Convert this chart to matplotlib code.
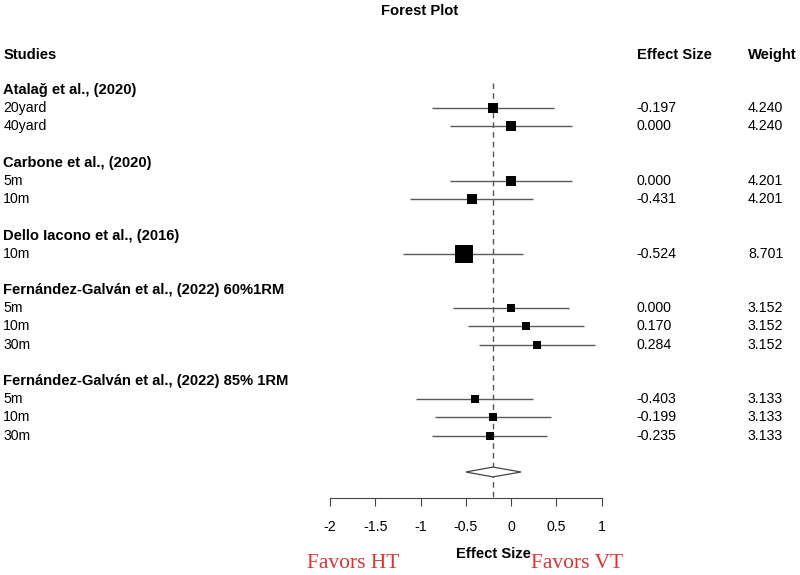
import matplotlib
matplotlib.use("Agg")
from matplotlib import pyplot as plt
from matplotlib import transforms
import numpy as np

plt.rcParams['font.family'] = ['Liberation Sans', 'DejaVu Sans']

studies = ["Atalağ et al., (2020)",
           "Carbone et al., (2020)",
           "Dello Iacono et al., (2016)",
           "Fernández-Galván et al., (2022) 60%1RM",
           "Fernández-Galván et al., (2022) 85% 1RM"]
outcomes = [["20yard", "40yard"],
            ["5m", "10m"],
            ["10m"],
            ["5m", "10m", "30m"],
            ["5m", "10m", "30m"]]
effect = [[-0.197, 0.000],
          [0.000, -0.431],
          [-0.524],
          [0.000, 0.170, 0.284],
          [-0.403, -0.199, -0.235]]
ci_low = [[-0.877, -0.675],
          [-0.675, -1.116],
          [-1.197],
          [-0.638, -0.473, -0.358],
          [-1.050, -0.840, -0.877]]
ci_high = [[0.477, 0.669],
           [0.669, 0.245],
           [0.135],
           [0.639, 0.805, 0.923],
           [0.238, 0.440, 0.400]]
weight = [[4.240, 4.240],
          [4.201, 4.201],
          [8.701],
          [3.152, 3.152, 3.152],
          [3.133, 3.133, 3.133]]
summary_es = -0.20
summary_low = -0.50
summary_high = 0.11
xticks = [-2, -1.5, -1, -0.5, 0, 0.5, 1]

fig = plt.figure(figsize=(8, 5.75), dpi=100)
ax = fig.add_axes([0, 0, 1, 1])
# pixel -> data mapping: x = (px - 511.1) / 90.57, row = (py - 90) / 18.19
ax.set_xlim((0 - 511.1) / 90.57, (800 - 511.1) / 90.57)
ax.set_ylim((575 - 90) / 18.19, (0 - 90) / 18.19)

lab = transforms.blended_transform_factory(fig.transFigure, ax.transData)
fs = 10.2
hfs = 10.6

ax.text(0.524, -4.35, "Forest Plot", transform=lab, ha='center', va='center',
        fontsize=hfs, fontweight='bold')
ax.text(0.004, -1.92, "Studies", transform=lab, ha='left', va='center',
        fontsize=hfs, fontweight='bold')
ax.text(0.796, -1.92, "Effect Size", transform=lab, ha='left', va='center',
        fontsize=hfs, fontweight='bold')
ax.text(0.935, -1.92, "Weight", transform=lab, ha='left', va='center',
        fontsize=hfs, fontweight='bold')

row = 0
for i, study in enumerate(studies):
    ax.text(0.004, row, study, transform=lab, ha='left', va='center',
            fontsize=hfs, fontweight='bold')
    row += 1
    for j, name in enumerate(outcomes[i]):
        ax.text(0.004, row, name, transform=lab, ha='left', va='center', fontsize=fs)
        ax.hlines(row, ci_low[i][j], ci_high[i][j], color='#5a5a5a', lw=1.0, zorder=2)
        side_px = 2.0 * weight[i][j] + 0.9
        ax.plot(effect[i][j], row, marker='s', color='black',
                markersize=side_px * 0.72, markeredgewidth=0, zorder=3)
        ax.text(0.796, row, "%.3f" % effect[i][j], transform=lab, ha='left',
                va='center', fontsize=fs)
        ax.text(0.935, row, "%.3f" % weight[i][j], transform=lab, ha='left',
                va='center', fontsize=fs)
        row += 1
    row += 1

axis_row = 22.45
ax.vlines(summary_es, -0.4, axis_row, color='#555555', lw=1.0,
          linestyles=(0, (4, 3)), zorder=1)
ax.fill([summary_low, summary_es, summary_high, summary_es],
        [row, row - 0.27, row, row + 0.27],
        facecolor='white', edgecolor='#444444', lw=0.9, zorder=3)

for s in ['top', 'left', 'right']:
    ax.spines[s].set_visible(False)
ax.spines['bottom'].set_position(('data', axis_row))
ax.spines['bottom'].set_bounds(xticks[0], xticks[-1])
ax.spines['bottom'].set_color('#444444')
ax.set_xticks(xticks)
ax.set_xticklabels(["%g" % t for t in xticks], fontsize=fs)
ax.tick_params(axis='x', direction='out', length=5.8, color='#444444', pad=10)
ax.set_yticks([])
ax.patch.set_visible(False)

ax.text(summary_es, (554 - 90) / 18.19, "Effect Size", ha='center', va='center',
        fontsize=hfs, fontweight='bold')
ax.text(-1.74, (563 - 90) / 18.19, "Favors HT", ha='center', va='center',
        fontsize=15.5, family='Liberation Serif', color='#dd3333')
ax.text(0.73, (563 - 90) / 18.19, "Favors VT", ha='center', va='center',
        fontsize=15.5, family='Liberation Serif', color='#dd3333')

plt.savefig("out.png", dpi=100)
